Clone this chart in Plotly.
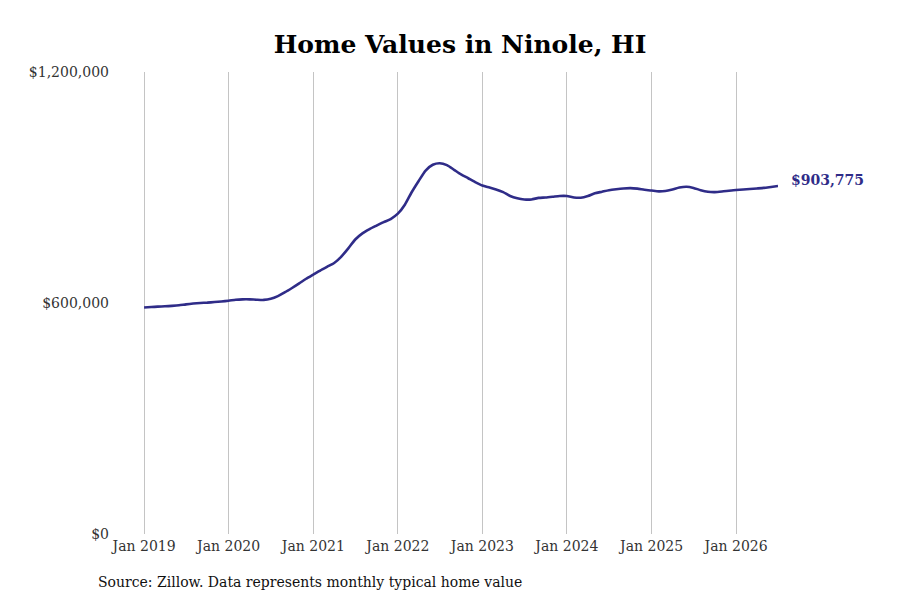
import pandas as pd
import plotly.graph_objects as go

# monthly typical home value, Jan 2019 - Jul 2026
values = [
    588500, 589500, 590500, 591500, 592500, 594000, 596500, 598500, 600000, 601000, 602500, 604000,
    606000, 608500, 609500, 609500, 608500, 608000, 611000, 618000, 628000, 639000, 651000, 663000,
    674000, 685000, 694000, 704000, 720000, 742000, 765000, 781000, 792000, 801000, 810000, 818000,
    832000, 856000, 887000, 917000, 944000, 959000, 963000, 958000, 946000, 934000, 924000, 914000,
    905000, 900000, 895000, 888000, 878000, 872000, 869000, 869000, 873000, 874000, 876000, 878000,
    878000, 874000, 873500, 878000, 885000, 889000, 893000, 895500, 897500, 898500, 897000, 894000,
    892000, 890000, 891000, 895000, 900000, 902000, 899000, 893000, 889000, 888000, 889500, 891500,
    893500, 895000, 896000, 897500, 899000, 901500, 903775,
]
dates = pd.date_range("2019-01-01", periods=len(values), freq="MS")

y_ticks = [0, 600000, 1200000]
y_labels = ["$0", "$600,000", "$1,200,000"]

line_color = "#2f2c88"
font_family = "DejaVu Serif, serif"

fig = go.Figure()
fig.add_trace(go.Scatter(
    x=dates, y=values, mode="lines",
    line=dict(color=line_color, width=2.6, shape="spline", smoothing=0.6),
    hoverinfo="skip", showlegend=False,
))

# last value label
fig.add_annotation(
    x=dates[-1], y=values[-1], text=f"<b>${values[-1]:,}</b>",
    showarrow=False, xanchor="left", yanchor="middle", xshift=11, yshift=6,
    font=dict(family=font_family, size=14, color=line_color),
)

fig.add_annotation(
    x=-0.072, y=-0.103, xref="paper", yref="paper", xanchor="left", yanchor="middle",
    text="Source: Zillow. Data represents monthly typical home value", showarrow=False,
    font=dict(family=font_family, size=14, color="#111111"),
)

fig.update_layout(
    width=900, height=600,
    margin=dict(l=134, r=130, t=64, b=74),
    paper_bgcolor="white", plot_bgcolor="white",
    title=dict(
        text="<b>Home Values in Ninole, HI</b>", x=0.5, xref="paper", y=0.94, yanchor="middle",
        font=dict(family=font_family, size=25, color="black"),
    ),
    xaxis=dict(
        range=["2018-12-23", dates[-1]], tickformat="%b %Y", dtick="M12", tick0="2019-01-01",
        showgrid=True, gridcolor="#c4c4c4", gridwidth=1, zeroline=False, showline=False,
        ticks="", ticklabelstandoff=2,
        tickfont=dict(family=font_family, size=14, color="#333333"),
    ),
    yaxis=dict(
        range=[0, 1200000], tickvals=y_ticks, ticktext=y_labels,
        showgrid=False, zeroline=False, showline=False, ticks="",
        ticklabelstandoff=32,
        tickfont=dict(family=font_family, size=14, color="#333333"),
    ),
)

fig.write_html("out.html")
